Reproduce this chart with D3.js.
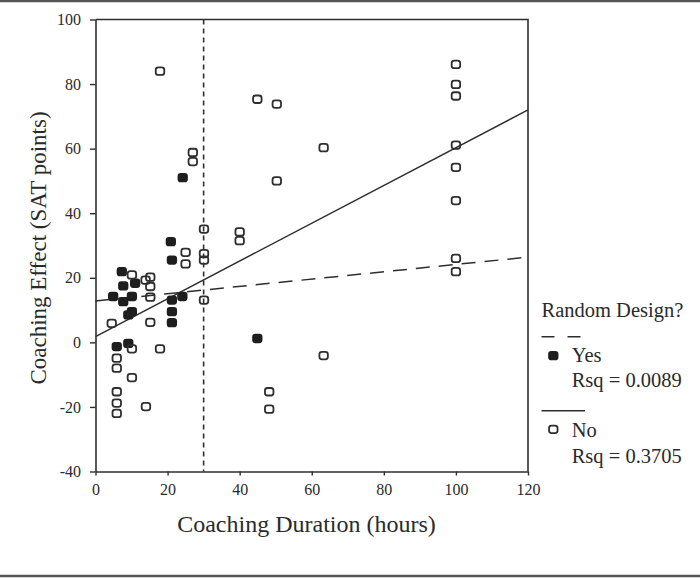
<!DOCTYPE html>
<html>
<head>
<meta charset="utf-8">
<script src="https://cdn.jsdelivr.net/npm/d3@7"></script>
<style>
  html, body { margin: 0; padding: 0; background: #fff; }
  svg { display: block; }
  text { font-family: "Liberation Serif", "Times New Roman", serif; fill: #2a2a2a; }
</style>
</head>
<body>
<svg id="chart" width="700" height="578"></svg>
<script>
// ---- data ----
const xTicks = [0, 20, 40, 60, 80, 100, 120];
const yTicks = [-40, -20, 0, 20, 40, 60, 80, 100];

// Random design = Yes (filled squares)
const yesX = [7.3, 11.0, 7.7, 4.9, 10.1, 7.7, 10.1, 9.1, 21.2, 21.2, 21.2, 24.1, 21.2, 5.9, 9.1, 20.9, 24.2, 44.9];
const yesY = [21.9, 18.3, 17.5, 14.2, 14.2, 12.6, 9.5, 8.5, 13.1, 9.5, 6.1, 14.2, 25.5, -1.3, -0.3, 31.2, 51.0, 1.2];

// Random design = No (open squares)
const noX = [5.9, 5.9, 5.9, 5.9, 5.9, 4.5, 10.1, 13.9, 15.2, 15.2, 15.2, 15.2, 17.9, 10.1, 10.1, 14.0,
             17.9, 44.9, 50.3, 27.0, 27.0, 50.3, 63.3,
             100, 100, 100, 100, 100, 100, 100, 100,
             63.3, 48.2, 48.2, 30.1, 30.1, 30.1, 30.1, 40.0, 40.0, 25.0, 25.0];
const noY = [-4.9, -8.0, -15.3, -18.8, -22.0, 5.9, 20.9, 19.3, 20.2, 17.3, 14.0, 6.2, -2.0, -2.0, -10.9, -19.9,
             84.0, 75.3, 73.8, 58.8, 56.0, 50.0, 60.3,
             86.1, 79.9, 76.3, 61.1, 54.2, 43.9, 26.0, 21.9,
             -4.1, -15.3, -20.7, 35.1, 27.5, 25.5, 13.1, 34.2, 31.5, 27.9, 24.3];

// fitted lines (value at x = 0 and x = 120)
const fitX = [0, 120];
const yesFitY = [12.8, 26.4];
const noFitY = [1.8, 72.0];
const cutoffX = 30;

const legendTitle = "Random Design?";
const legendLabels = ["Yes", "No"];
const legendRsq = ["Rsq = 0.0089", "Rsq = 0.3705"];

// ---- drawing ----
const svg = d3.select("#chart");
const W = 700, H = 578;
const L = 95.5, R = 528, T = 19.5, B = 471.5;
const ink = "#2e2e2e";
const serif = '"Liberation Serif", "Times New Roman", serif';

const x = d3.scaleLinear().domain([0, 120]).range([L, R]);
const y = d3.scaleLinear().domain([-40, 100]).range([B, T]);

// page border lines
svg.append("line").attr("x1", 0).attr("x2", W).attr("y1", 1).attr("y2", 1)
  .attr("stroke", "#555").attr("stroke-width", 2.5);
svg.append("line").attr("x1", 0).attr("x2", W).attr("y1", 576).attr("y2", 576)
  .attr("stroke", "#555").attr("stroke-width", 2.5);

// frame (top & right)
svg.append("path")
  .attr("d", `M${L},${T}H${R}V${B}`)
  .attr("fill", "none").attr("stroke", ink).attr("stroke-width", 1.6);

// axes
const xAxis = svg.append("g").attr("transform", `translate(0,${B})`)
  .call(d3.axisBottom(x).tickValues(xTicks).tickSize(4).tickPadding(8).tickSizeOuter(0));
const yAxis = svg.append("g").attr("transform", `translate(${L},0)`)
  .call(d3.axisLeft(y).tickValues(yTicks).tickSize(5.5).tickPadding(9).tickSizeOuter(0)
        .tickFormat(d => d < 0 ? "-" + Math.abs(d) : d));
[xAxis, yAxis].forEach(g => {
  g.attr("font-family", serif).attr("font-size", 16);
  g.select(".domain").attr("stroke", ink).attr("stroke-width", 1.6);
  g.selectAll(".tick line").attr("stroke", ink).attr("stroke-width", 1.4);
  g.selectAll(".tick text").style("font-family", serif).style("font-size", "16px")
    .attr("fill", "#2a2a2a");
});

// axis titles
svg.append("text").attr("x", 306.5).attr("y", 532).attr("text-anchor", "middle")
  .attr("font-size", 24).text("Coaching Duration (hours)");
svg.append("text").attr("transform", "translate(46,248) rotate(-90)").attr("text-anchor", "middle")
  .attr("font-size", 23).text("Coaching Effect (SAT points)");

// cutoff line
svg.append("line")
  .attr("x1", x(cutoffX)).attr("x2", x(cutoffX)).attr("y1", T).attr("y2", B)
  .attr("stroke", ink).attr("stroke-width", 1.6).attr("stroke-dasharray", "5,4");

// fit lines
const line = d3.line().x(d => x(d[0])).y(d => y(d[1]));
svg.append("path").datum(fitX.map((v, i) => [v, yesFitY[i]]))
  .attr("d", line).attr("fill", "none").attr("stroke", ink)
  .attr("stroke-width", 1.5).attr("stroke-dasharray", "14,9");
svg.append("path").datum(fitX.map((v, i) => [v, noFitY[i]]))
  .attr("d", line).attr("fill", "none").attr("stroke", ink).attr("stroke-width", 1.5);

// markers
const mw = 8.5, mh = 7.5;
const yesData = yesX.map((v, i) => ({ x: v, y: yesY[i] }));
const noData = noX.map((v, i) => ({ x: v, y: noY[i] }));

svg.append("g").selectAll("rect").data(yesData).join("rect")
  .attr("x", d => x(d.x) - mw / 2).attr("y", d => y(d.y) - mh / 2)
  .attr("width", mw).attr("height", mh).attr("rx", 2.2)
  .attr("fill", "#1e1e1e").attr("stroke", "#1e1e1e").attr("stroke-width", 1.8);

svg.append("g").selectAll("rect").data(noData).join("rect")
  .attr("x", d => x(d.x) - mw / 2).attr("y", d => y(d.y) - mh / 2)
  .attr("width", mw).attr("height", mh).attr("rx", 2.5)
  .attr("fill", "none").attr("stroke", "#2e2e2e").attr("stroke-width", 1.8);

// legend
const lg = svg.append("g");
const lfs = 20.5;
lg.append("text").attr("x", 541.5).attr("y", 316.7).attr("font-size", lfs).text(legendTitle);
lg.append("line").attr("x1", 541.5).attr("x2", 582).attr("y1", 336.7).attr("y2", 336.7)
  .attr("stroke", ink).attr("stroke-width", 1.5).attr("stroke-dasharray", "13,13");
lg.append("rect").attr("x", 553.3 - mw / 2).attr("y", 355.7 - mh / 2).attr("width", mw).attr("height", mh)
  .attr("rx", 2.2).attr("fill", "#1e1e1e").attr("stroke", "#1e1e1e").attr("stroke-width", 1.8);
lg.append("text").attr("x", 571.7).attr("y", 361.7).attr("font-size", lfs).text(legendLabels[0]);
lg.append("text").attr("x", 571.7).attr("y", 386.7).attr("font-size", lfs).text(legendRsq[0]);
lg.append("line").attr("x1", 541.5).attr("x2", 585).attr("y1", 410.7).attr("y2", 410.7)
  .attr("stroke", ink).attr("stroke-width", 1.5);
lg.append("rect").attr("x", 553.3 - mw / 2).attr("y", 429.3 - mh / 2).attr("width", mw).attr("height", mh)
  .attr("rx", 2.5).attr("fill", "none").attr("stroke", "#2e2e2e").attr("stroke-width", 1.8);
lg.append("text").attr("x", 571.7).attr("y", 436.7).attr("font-size", lfs).text(legendLabels[1]);
lg.append("text").attr("x", 571.7).attr("y", 463.3).attr("font-size", lfs).text(legendRsq[1]);
</script>
</body>
</html>
